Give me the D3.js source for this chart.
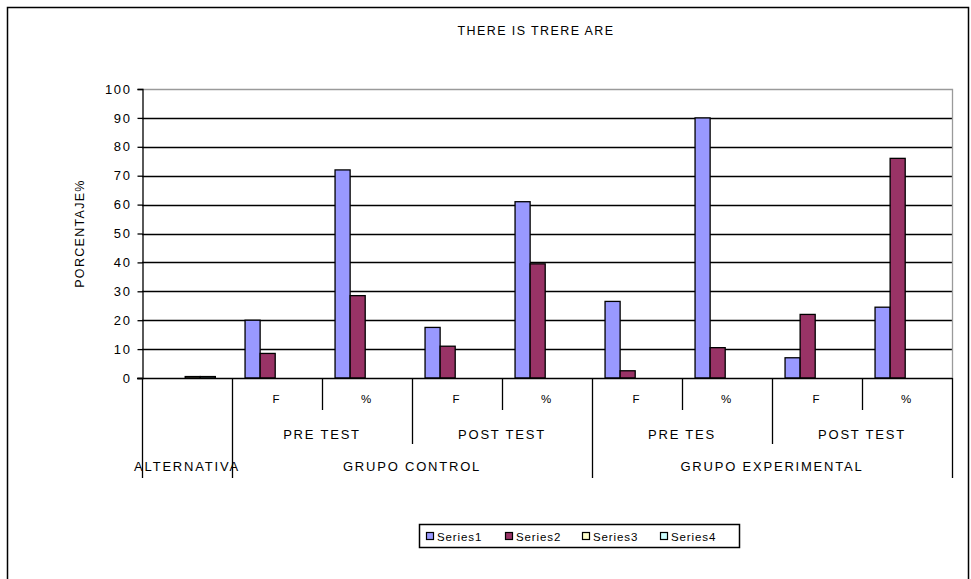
<!DOCTYPE html>
<html>
<head>
<meta charset="utf-8">
<script src="https://cdn.jsdelivr.net/npm/d3@7"></script>
<style>
  html, body { margin: 0; padding: 0; background: #fff; }
  svg text { font-family: "Liberation Sans", Arial, sans-serif; fill: #000; }
</style>
</head>
<body>
<svg id="chart" width="971" height="579"></svg>
<script>
// ---- data ----
const title = "THERE IS TRERE ARE";
const yTitle = "PORCENTAJE%";
const categories = ["", "F", "%", "F", "%", "F", "%", "F", "%"];
const subGroups = ["PRE TEST", "POST TEST", "PRE TES", "POST TEST"];
const subGroupSpans = [[1, 2], [3, 4], [5, 6], [7, 8]];
const groups = ["ALTERNATIVA", "GRUPO CONTROL", "GRUPO EXPERIMENTAL"];
const groupSpans = [[0, 0], [1, 4], [5, 8]];
const seriesNames = ["Series1", "Series2", "Series3", "Series4"];
const series1 = [0, 20, 72, 17.5, 61, 26.5, 90, 7, 24.5];
const series2 = [0, 8.5, 28.5, 11, 39.5, 2.5, 10.5, 22, 76];
const series3 = [0.5, 0, 0, 0, 0, 0, 0, 0, 0];
const series4 = [0.5, 0, 0, 0, 0, 0, 0, 0, 0];
const yTicks = [0, 10, 20, 30, 40, 50, 60, 70, 80, 90, 100];
const colors = ["#9999FF", "#993366", "#FFFFCC", "#CCFFFF"];

const allSeries = [series1, series2, series3, series4];

// ---- layout ----
const svg = d3.select("#chart");
const plot = { left: 142, right: 952, top: 89, bottom: 378 };

// outer frame
svg.append("rect")
  .attr("x", 7.5).attr("y", 7.5).attr("width", 961).attr("height", 590)
  .attr("fill", "none").attr("stroke", "#000").attr("stroke-width", 1.5);

// title
svg.append("text")
  .attr("x", 536).attr("y", 35)
  .attr("text-anchor", "middle")
  .style("font-size", "12.5px").style("letter-spacing", "1.4px")
  .text(title);

const x = d3.scaleBand().domain(d3.range(categories.length))
  .range([plot.left, plot.right]).paddingInner(0).paddingOuter(0);
const xs = d3.scaleBand().domain(d3.range(seriesNames.length))
  .range([x.bandwidth() * 0.145, x.bandwidth() * 0.815]).padding(0);
const y = d3.scaleLinear().domain([0, 100]).range([plot.bottom, plot.top]);

// gridlines
svg.append("g").selectAll("line")
  .data(yTicks.filter(t => t > 0 && t < 100))
  .join("line")
  .attr("x1", plot.left).attr("x2", plot.right)
  .attr("y1", d => Math.round(y(d)) + 0.5).attr("y2", d => Math.round(y(d)) + 0.5)
  .attr("stroke", "#000").attr("stroke-width", 1.3);

// plot border (top and right gray)
svg.append("path")
  .attr("d", `M${plot.left},${plot.top + 0.5}H${plot.right + 0.5}V${plot.bottom}`)
  .attr("fill", "none").attr("stroke", "#9a9a9a").attr("stroke-width", 1.3);

// bars
const barData = [];
allSeries.forEach((s, si) => s.forEach((v, ci) => {
  if (v > 0) barData.push({ si, ci, v });
}));
svg.append("g").selectAll("rect")
  .data(barData)
  .join("rect")
  .attr("x", d => x(d.ci) + xs(d.si))
  .attr("y", d => y(d.v))
  .attr("width", xs.bandwidth())
  .attr("height", d => y(0) - y(d.v))
  .attr("fill", d => colors[d.si])
  .attr("stroke", "#000").attr("stroke-width", 1.3);

// y axis
const yAxis = d3.axisLeft(y).tickValues(yTicks).tickSize(5).tickPadding(6);
const gy = svg.append("g").attr("transform", `translate(${plot.left + 0.5},0)`).call(yAxis);
gy.select(".domain").attr("stroke", "#000").attr("stroke-width", 1.3);
gy.selectAll(".tick line").attr("stroke", "#000").attr("stroke-width", 1.3);
gy.selectAll(".tick text")
  .style("font-size", "13px").style("font-family", "'Liberation Sans', Arial, sans-serif")
  .style("letter-spacing", "1.6px").attr("fill", "#000");

// y title
svg.append("text")
  .attr("transform", `translate(84,${(plot.top + plot.bottom) / 2}) rotate(-90)`)
  .attr("text-anchor", "middle")
  .style("font-size", "12.5px").style("letter-spacing", "1.3px")
  .text(yTitle);

// x axis line
svg.append("line")
  .attr("x1", plot.left - 5).attr("x2", plot.right + 0.5)
  .attr("y1", plot.bottom + 0.5).attr("y2", plot.bottom + 0.5)
  .attr("stroke", "#000").attr("stroke-width", 1.3);

// multi-level category axis
const lvl1Bottom = 410, lvl2Bottom = 444, lvl3Bottom = 478;
const boundaryDepth = i => {
  const starts3 = groupSpans.map(g => g[0]).concat([categories.length]);
  if (starts3.includes(i)) return lvl3Bottom;
  const starts2 = subGroupSpans.map(g => g[0]);
  if (starts2.includes(i)) return lvl2Bottom;
  return lvl1Bottom;
};
const boundaries = d3.range(categories.length + 1);
const xPos = i => (i === categories.length ? plot.right : x(i));
svg.append("g").selectAll("line")
  .data(boundaries)
  .join("line")
  .attr("x1", d => Math.round(xPos(d)) + 0.5).attr("x2", d => Math.round(xPos(d)) + 0.5)
  .attr("y1", plot.bottom).attr("y2", d => boundaryDepth(d))
  .attr("stroke", "#000").attr("stroke-width", 1.3);

const lblStyle = sel => sel.style("font-size", "13px").style("letter-spacing", "1.8px")
  .attr("text-anchor", "middle");

svg.append("g").selectAll("text")
  .data(categories.map((c, i) => ({ c, i })).filter(d => d.c))
  .join("text")
  .attr("x", d => x(d.i) + x.bandwidth() / 2)
  .attr("y", 403)
  .call(lblStyle)
  .style("font-size", "11.5px")
  .text(d => d.c);

svg.append("g").selectAll("text")
  .data(subGroups.map((s, i) => ({ s, span: subGroupSpans[i] })))
  .join("text")
  .attr("x", d => (x(d.span[0]) + x(d.span[1]) + x.bandwidth()) / 2)
  .attr("y", 439)
  .call(lblStyle)
  .text(d => d.s);

svg.append("g").selectAll("text")
  .data(groups.map((g, i) => ({ g, span: groupSpans[i] })))
  .join("text")
  .attr("x", d => (x(d.span[0]) + x(d.span[1]) + x.bandwidth()) / 2)
  .attr("y", 471)
  .call(lblStyle)
  .text(d => d.g);

// legend
const legend = svg.append("g");
legend.append("rect")
  .attr("x", 419.5).attr("y", 524.5).attr("width", 320).attr("height", 23)
  .attr("fill", "#fff").attr("stroke", "#000").attr("stroke-width", 1.5);
const legX = [426, 505, 582, 660];
const items = legend.selectAll("g.item")
  .data(seriesNames.map((n, i) => ({ n, i })))
  .join("g").attr("class", "item")
  .attr("transform", d => `translate(${legX[d.i]},536)`);
items.append("rect")
  .attr("x", 0.5).attr("y", -3.5).attr("width", 7).attr("height", 7)
  .attr("fill", d => colors[d.i]).attr("stroke", "#000").attr("stroke-width", 1.2);
items.append("text")
  .attr("x", 11).attr("y", 4.5)
  .style("font-size", "11.5px").style("letter-spacing", "0.9px")
  .text(d => d.n);
</script>
</body>
</html>
